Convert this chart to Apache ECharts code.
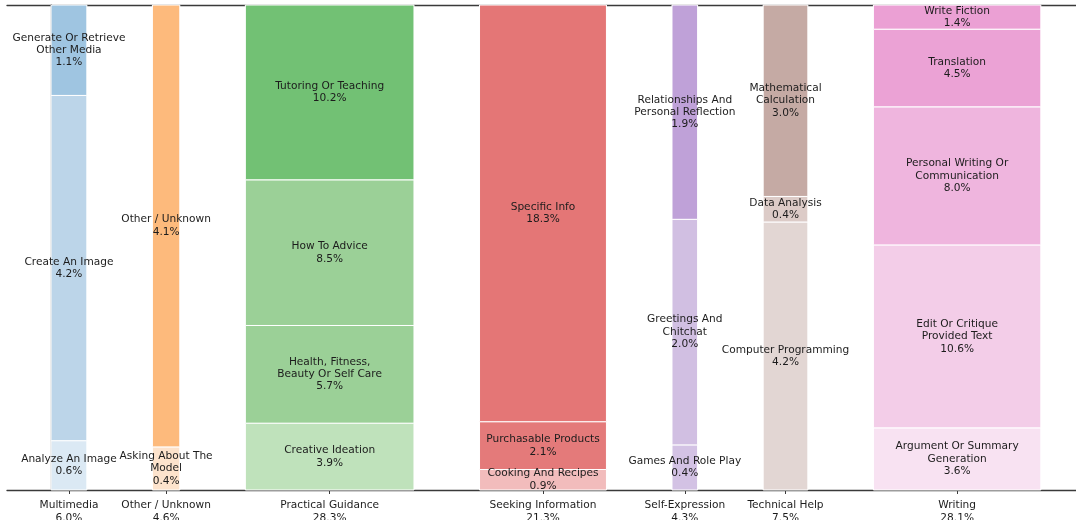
<!DOCTYPE html>
<html>
<head>
<meta charset="utf-8">
<script src="https://cdn.jsdelivr.net/npm/echarts@6/dist/echarts.min.js"></script>
<style>
  html, body { margin: 0; padding: 0; background: #fff; }
  #chart { width: 1076px; height: 520px; }
</style>
</head>
<body>
<div id="chart"></div>
<script>
// ---- data ----
const groups = ['Multimedia', 'Other / Unknown', 'Practical Guidance', 'Seeking Information', 'Self-Expression', 'Technical Help', 'Writing'];
const groupTotals = [6.0, 4.6, 28.3, 21.3, 4.3, 7.5, 28.1];
const multimediaNames = ['Analyze An Image', 'Create An Image', 'Generate Or Retrieve\nOther Media'];
const multimediaValues = [0.6, 4.2, 1.1];
const otherNames = ['Asking About The\nModel', 'Other / Unknown'];
const otherValues = [0.4, 4.1];
const practicalNames = ['Creative Ideation', 'Health, Fitness,\nBeauty Or Self Care', 'How To Advice', 'Tutoring Or Teaching'];
const practicalValues = [3.9, 5.7, 8.5, 10.2];
const seekingNames = ['Cooking And Recipes', 'Purchasable Products', 'Specific Info'];
const seekingValues = [0.9, 2.1, 18.3];
const selfExprNames = ['Games And Role Play', 'Greetings And\nChitchat', 'Relationships And\nPersonal Reflection'];
const selfExprValues = [0.4, 2.0, 1.9];
const technicalNames = ['Computer Programming', 'Data Analysis', 'Mathematical\nCalculation'];
const technicalValues = [4.2, 0.4, 3.0];
const writingNames = ['Argument Or Summary\nGeneration', 'Edit Or Critique\nProvided Text', 'Personal Writing Or\nCommunication', 'Translation', 'Write Fiction'];
const writingValues = [3.6, 10.6, 8.0, 4.5, 1.4];

const segmentNames = [multimediaNames, otherNames, practicalNames, seekingNames, selfExprNames, technicalNames, writingNames];
const segmentValues = [multimediaValues, otherValues, practicalValues, seekingValues, selfExprValues, technicalValues, writingValues];

// ---- styles ----
const palette = [
  ['#dbe9f4', '#bcd5e9', '#9fc5e1'],
  ['#fde3cc', '#fdba7c'],
  ['#bfe2bb', '#9bd097', '#9bd097', '#72c174'],
  ['#f2bcbc', '#e47a7a', '#e47676'],
  ['#d3c2e4', '#d1bfe2', '#bfa1d8'],
  ['#e2d6d3', '#dccbc7', '#c5aaa4'],
  ['#f8e2f2', '#f3cde8', '#efb5de', '#eba2d5', '#eba0d4']
];
const GAP = 11;
const FONT = '10.6px "DejaVu Sans", sans-serif';
const TEXT_COLOR = '#1c1c1c';
const SPINE = '#3a3a3a';

// ---- build rectangles from data ----
const items = [];
const centers = [];
let cursor = 0;
groups.forEach((g, gi) => {
  const w = groupTotals[gi];
  const x0 = cursor, x1 = cursor + w;
  centers.push((x0 + x1) / 2);
  const vals = segmentValues[gi];
  const sum = vals.reduce((a, b) => a + b, 0);
  let acc = 0;
  vals.forEach((v, si) => {
    const y0 = acc / sum;
    acc += v;
    const y1 = acc / sum;
    items.push({
      value: [x0, x1, y0, y1],
      label: segmentNames[gi][si] + '\n' + v.toFixed(1) + '%',
      color: palette[gi][si]
    });
  });
  cursor = x1 + GAP;
});
const xMin = -7.4;
const xMax = 172.0;

const chart = echarts.init(document.getElementById('chart'), null, { renderer: 'canvas' });
chart.setOption({
  animation: false,
  backgroundColor: '#fff',
  grid: { left: 7, right: 0, top: 5, bottom: 30, containLabel: false, outerBoundsMode: 'none' },
  xAxis: [{
    type: 'value', min: xMin, max: xMax, position: 'bottom',
    splitLine: { show: false },
    axisLine: { show: true, lineStyle: { color: SPINE, width: 1.3 } },
    axisTick: { show: true, length: 4, customValues: centers, lineStyle: { color: SPINE, width: 1 } },
    axisLabel: {
      show: true, customValues: centers, margin: 9,
      fontFamily: 'DejaVu Sans', fontSize: 10.6, lineHeight: 12.6, color: TEXT_COLOR,
      formatter: function (v) {
        let best = 0, d = Infinity;
        centers.forEach((c, i) => { if (Math.abs(c - v) < d) { d = Math.abs(c - v); best = i; } });
        return groups[best] + '\n' + groupTotals[best].toFixed(1) + '%';
      }
    }
  }, {
    type: 'value', min: xMin, max: xMax, position: 'top',
    splitLine: { show: false },
    axisLine: { show: true, lineStyle: { color: SPINE, width: 1.3 } },
    axisTick: { show: false }, axisLabel: { show: false }
  }],
  yAxis: {
    type: 'value', min: 0, max: 1,
    splitLine: { show: false },
    axisLine: { show: true, lineStyle: { color: SPINE, width: 1.3 } },
    axisTick: { show: false }, axisLabel: { show: false }
  },
  series: [{
    type: 'custom',
    data: items.map(it => it.value),
    clip: false,
    renderItem: function (params, api) {
      const it = items[params.dataIndex];
      const p0 = api.coord([api.value(0), api.value(3)]);
      const p1 = api.coord([api.value(1), api.value(2)]);
      return {
        type: 'group',
        children: [{
          type: 'rect',
          shape: { x: p0[0], y: p0[1], width: p1[0] - p0[0], height: p1[1] - p0[1] },
          style: { fill: it.color, stroke: '#ffffff', lineWidth: 1 },
          z2: 1
        }, {
          type: 'text',
          style: {
            text: it.label, x: (p0[0] + p1[0]) / 2, y: (p0[1] + p1[1]) / 2,
            align: 'center', verticalAlign: 'middle',
            font: FONT, lineHeight: 12.4, fill: TEXT_COLOR
          },
          z2: 50
        }]
      };
    }
  }]
});
</script>
</body>
</html>
